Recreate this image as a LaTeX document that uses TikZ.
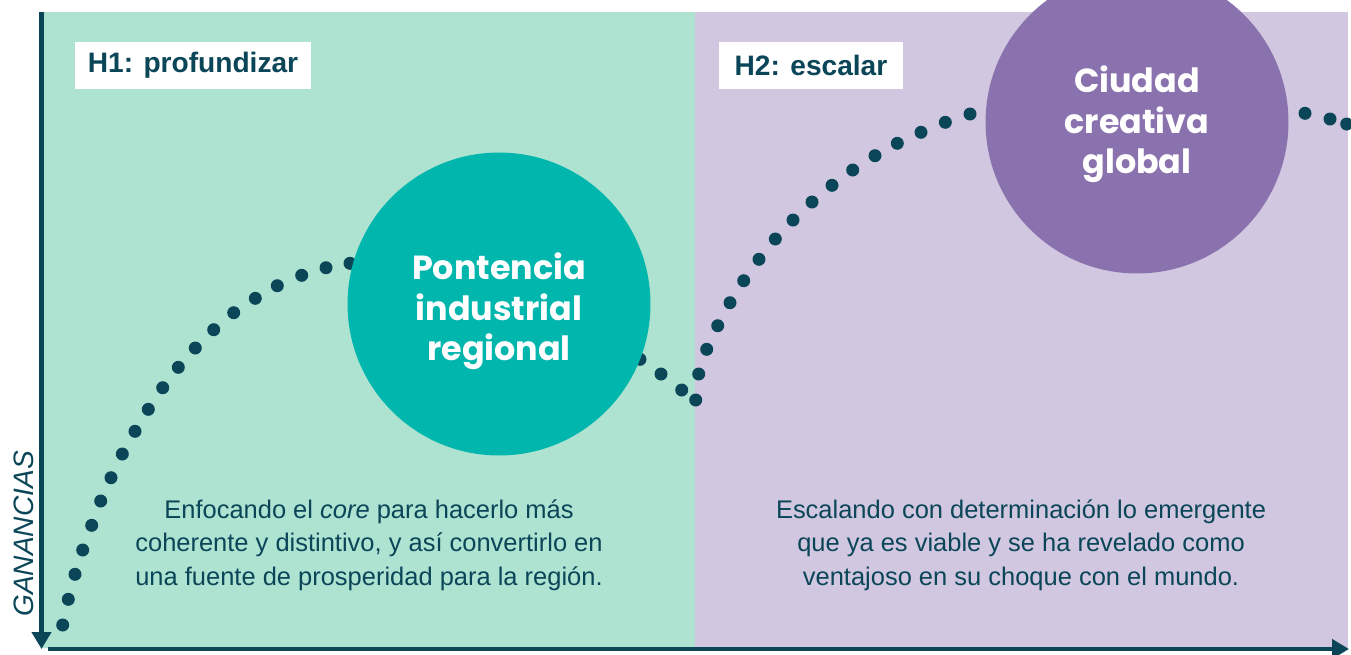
\documentclass[tikz,border=0pt]{standalone}
\usepackage{fontspec}
\setmainfont{Liberation Sans}
\newfontfamily\circfont{Poppins}
\usetikzlibrary{arrows.meta}
\definecolor{oscuro}{HTML}{0B4658}
\definecolor{verde}{HTML}{AEE3D2}
\definecolor{lila}{HTML}{D2C7E0}
\definecolor{turquesa}{HTML}{00B6AD}
\definecolor{morado}{HTML}{8A72AE}

\begin{document}
\begin{tikzpicture}[x=0.02cm,y=-0.02cm,% 1 unidad = 1px
  circulo/.style={circle,minimum size=6.06cm,inner sep=0pt},
  textocirc/.style={text=white,align=center,inner sep=0pt,
    font=\circfont\bfseries\fontsize{19}{23}\selectfont},
  etiqueta/.style={fill=white,text=oscuro,minimum height=0.94cm,inner sep=0pt,
    font=\bfseries\fontsize{16}{19}\selectfont},
  texto/.style={text=oscuro,align=center,font=\fontsize{14.5}{19}\selectfont},
  eje/.style={draw=oscuro,line width=0.09cm,-{Triangle[length=0.34cm,width=0.38cm]}}]
\useasboundingbox (0,0) rectangle (1351,654);
% fondos
\fill[verde] (41,12) rectangle (695,648);
\fill[lila] (695,12) rectangle (1348,648);
% ejes
\coordinate (arriba) at (41.5,12); \coordinate (abajo) at (41.5,649);
\coordinate (inicio) at (48,649); \coordinate (fin) at (1349,649);
\draw[eje] (arriba) -- (abajo);
\draw[eje] (inicio) -- (fin);
\node[rotate=90,text=oscuro,font=\itshape\fontsize{16}{18}\selectfont] (ganancias) at (24,534) {GANANCIAS};
% curva punteada
\foreach \x/\y in {62.7/625,68.3/599.3,75/574.3,82.7/550,91.7/525.3,100.7/501,111/477.7,
  122.3/454,135/431.3,148.3/409.3,162.7/387.7,178.3/367.3,195.3/348,213.7/329.7,233.7/312.7,
  255.3/298.3,277.3/285.7,301.7/275.3,326/267.7,350/263.3,
  640/359.3,661/374,681.7/390,695.7/400,698.7/374,706.7/349.3,717.7/325.7,730/302.7,
  743.7/280.7,759/259.3,775.3/239,793/220,812/202,832/185.3,852.7/170,875/155.7,897.3/143.3,
  921/132.3,945.3/122.3,970/114,1305/113.3,1330/119,1346.7/124}
  \fill[oscuro] (\x,\y) circle (0.13cm);
% circulos
\node[circulo,fill=turquesa] (potencia) at (499,304) {};
\node[textocirc] (potenciatexto) at ([yshift=-0.15cm]potencia.center) {Pontencia\\industrial\\regional};
\node[circulo,fill=morado] (ciudad) at (1137,122) {};
\node[textocirc] (ciudadtexto) at ([yshift=-0.05cm]ciudad.center) {Ciudad\\creativa\\global};
% etiquetas y textos
\node[etiqueta,minimum width=4.72cm] (hone) at (193,65.5) {H1: profundizar};
\node[etiqueta,minimum width=3.68cm] (htwo) at (811,65.5) {H2: escalar};
\node[texto] (textouno) at (369,545) {Enfocando el \textit{core} para hacerlo más\\coherente y distintivo, y así convertirlo en\\una fuente de prosperidad para la región.};
\node[texto] (textodos) at (1021,545) {Escalando con determinación lo emergente\\que ya es viable y se ha revelado como\\ventajoso en su choque con el mundo.};
\end{tikzpicture}
\end{document}
